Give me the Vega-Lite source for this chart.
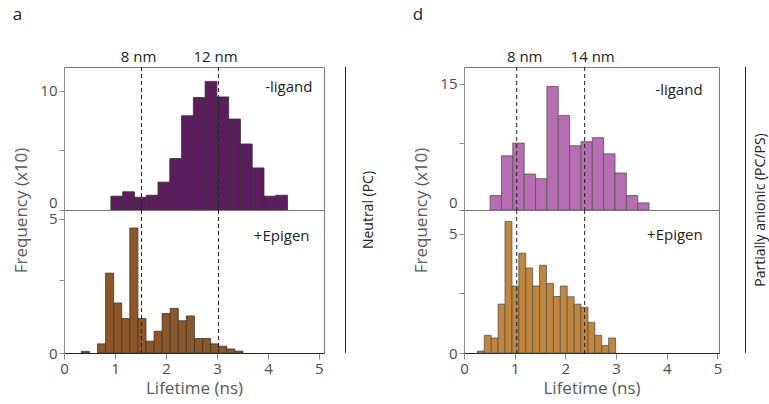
{
  "$schema": "https://vega.github.io/schema/vega-lite/v6.json",
  "background": "white",
  "padding": {"left": 12, "top": 5, "right": 5, "bottom": 5},
  "datasets": {
    "aTop": [
      {"start": 0.92, "end": 1.151, "count": 1.16},
      {"start": 1.151, "end": 1.382, "count": 1.53},
      {"start": 1.382, "end": 1.613, "count": 1.07},
      {"start": 1.613, "end": 1.844, "count": 1.24},
      {"start": 1.844, "end": 2.075, "count": 2.34},
      {"start": 2.075, "end": 2.306, "count": 4.32},
      {"start": 2.306, "end": 2.537, "count": 7.91},
      {"start": 2.537, "end": 2.768, "count": 9.44},
      {"start": 2.768, "end": 2.999, "count": 10.79},
      {"start": 2.999, "end": 3.23, "count": 9.49},
      {"start": 3.23, "end": 3.461, "count": 7.63},
      {"start": 3.461, "end": 3.692, "count": 5.54},
      {"start": 3.692, "end": 3.923, "count": 3.53},
      {"start": 3.923, "end": 4.154, "count": 1.16},
      {"start": 4.154, "end": 4.385, "count": 1.24}
    ],
    "aBot": [
      {"start": 0.34, "end": 0.4985, "count": 0.06},
      {"start": 0.657, "end": 0.8155, "count": 0.34},
      {"start": 0.8155, "end": 0.974, "count": 2.97},
      {"start": 0.974, "end": 1.1325, "count": 1.86},
      {"start": 1.1325, "end": 1.291, "count": 1.28},
      {"start": 1.291, "end": 1.4495, "count": 4.65},
      {"start": 1.4495, "end": 1.608, "count": 1.28},
      {"start": 1.608, "end": 1.7665, "count": 0.44},
      {"start": 1.7665, "end": 1.925, "count": 0.81},
      {"start": 1.925, "end": 2.0835, "count": 1.47},
      {"start": 2.0835, "end": 2.242, "count": 1.66},
      {"start": 2.242, "end": 2.4005, "count": 1.2},
      {"start": 2.4005, "end": 2.559, "count": 1.38},
      {"start": 2.559, "end": 2.7175, "count": 0.54},
      {"start": 2.7175, "end": 2.876, "count": 0.54},
      {"start": 2.876, "end": 3.0345, "count": 0.34},
      {"start": 3.0345, "end": 3.193, "count": 0.25},
      {"start": 3.193, "end": 3.3515, "count": 0.15},
      {"start": 3.3515, "end": 3.51, "count": 0.07}
    ],
    "dTop": [
      {"start": 0.515, "end": 0.739, "count": 1.72},
      {"start": 0.739, "end": 0.963, "count": 6.44},
      {"start": 0.963, "end": 1.187, "count": 7.96},
      {"start": 1.187, "end": 1.411, "count": 4.28},
      {"start": 1.411, "end": 1.635, "count": 3.72},
      {"start": 1.635, "end": 1.859, "count": 14.7},
      {"start": 1.859, "end": 2.083, "count": 11.24},
      {"start": 2.083, "end": 2.307, "count": 7.64},
      {"start": 2.307, "end": 2.531, "count": 8.12},
      {"start": 2.531, "end": 2.755, "count": 8.6},
      {"start": 2.755, "end": 2.979, "count": 6.68},
      {"start": 2.979, "end": 3.203, "count": 4.4},
      {"start": 3.203, "end": 3.427, "count": 1.72},
      {"start": 3.427, "end": 3.651, "count": 0.84}
    ],
    "dBot": [
      {"start": 0.264, "end": 0.4003, "count": 0.08},
      {"start": 0.4003, "end": 0.5366, "count": 0.74},
      {"start": 0.5366, "end": 0.6729, "count": 0.63},
      {"start": 0.6729, "end": 0.8092, "count": 2.05},
      {"start": 0.8092, "end": 0.9455, "count": 5.52},
      {"start": 0.9455, "end": 1.0818, "count": 2.81},
      {"start": 1.0818, "end": 1.2181, "count": 4.19},
      {"start": 1.2181, "end": 1.3544, "count": 3.57},
      {"start": 1.3544, "end": 1.4907, "count": 2.81},
      {"start": 1.4907, "end": 1.627, "count": 3.68},
      {"start": 1.627, "end": 1.7633, "count": 2.92},
      {"start": 1.7633, "end": 1.8996, "count": 2.37},
      {"start": 1.8996, "end": 2.0359, "count": 2.81},
      {"start": 2.0359, "end": 2.1722, "count": 2.36},
      {"start": 2.1722, "end": 2.3085, "count": 2.05},
      {"start": 2.3085, "end": 2.4448, "count": 1.92},
      {"start": 2.4448, "end": 2.5811, "count": 1.29},
      {"start": 2.5811, "end": 2.7174, "count": 0.74},
      {"start": 2.7174, "end": 2.8537, "count": 0.31},
      {"start": 2.8537, "end": 2.99, "count": 0.63}
    ],
    "aLines": [
      {"lifetime": 1.52, "label": "8 nm"},
      {"lifetime": 3.03, "label": "12 nm"}
    ],
    "dLines": [
      {"lifetime": 1.04, "label": "8 nm"},
      {"lifetime": 2.38, "label": "14 nm"}
    ]
  },
  "bounds": "flush",
  "align": "each",
  "columns": 4,
  "spacing": {"row": 0, "column": 10},
  "concat": [
    {
      "width": 260,
      "height": 143,
      "title": {"text": "a", "anchor": "start", "frame": "bounds", "offset": 26, "fontSize": 17, "fontWeight": "normal", "font": "Open Sans", "color": "#222"},
      "layer": [
        {
          "data": {"name": "aTop"},
          "mark": {"type": "bar", "fill": "#5c1d5e", "stroke": "#333333", "strokeWidth": 0.8},
          "encoding": {
            "x": {"field": "start", "type": "quantitative", "scale": {"domain": [0, 5.1], "nice": false}, "axis": null},
            "x2": {"field": "end"},
            "y": {"field": "count", "type": "quantitative", "scale": {"domain": [0, 12], "nice": false},
              "axis": {"values": [0, 5, 10], "labelExpr": "datum.value == 5 ? '' : datum.label", "title": "Frequency (x10)", "titleY": 143, "titlePadding": 9, "labelFlush": true}},
            "y2": {"datum": 0}
          }
        },
        {
          "data": {"name": "aLines"},
          "mark": {"type": "rule", "strokeDash": [4, 3], "color": "#222", "strokeWidth": 1},
          "encoding": {"x": {"field": "lifetime", "type": "quantitative"}}
        },
        {
          "data": {"name": "aLines"},
          "mark": {"type": "text", "baseline": "bottom", "dy": -2, "dx": -3, "fontSize": 15, "font": "Open Sans", "color": "#222"},
          "encoding": {"x": {"field": "lifetime", "type": "quantitative"}, "y": {"datum": 12}, "text": {"field": "label"}}
        },
        {
          "data": {"values": [{"label": "-ligand"}]},
          "mark": {"type": "text", "fontSize": 15, "font": "Open Sans", "color": "#222"},
          "encoding": {"x": {"datum": 4.41}, "y": {"datum": 10.3}, "text": {"field": "label"}}
        }
      ]
    },
    {
      "width": 120,
      "height": 143,
      "view": {"stroke": null},
      "layer": [
        {
          "data": {"values": [{"pos": 11.5}]},
          "mark": {"type": "rule", "color": "#222", "strokeWidth": 1},
          "encoding": {"x": {"field": "pos", "type": "quantitative", "scale": {"domain": [0, 120], "nice": false}, "axis": null}}
        },
        {
          "data": {"values": [{"label": "Neutral (PC)"}]},
          "mark": {"type": "text", "angle": 270, "fontSize": 14, "font": "Open Sans", "color": "#222"},
          "encoding": {"x": {"datum": 34.5}, "y": {"datum": 0, "scale": {"domain": [0, 1]}, "axis": null}, "text": {"field": "label"}}
        }
      ]
    },
    {
      "width": 255,
      "height": 143,
      "title": {"text": "d", "anchor": "start", "frame": "bounds", "offset": 26, "fontSize": 17, "fontWeight": "normal", "font": "Open Sans", "color": "#222"},
      "layer": [
        {
          "data": {"name": "dTop"},
          "mark": {"type": "bar", "fill": "#b66db1", "stroke": "#555555", "strokeWidth": 0.8},
          "encoding": {
            "x": {"field": "start", "type": "quantitative", "scale": {"domain": [0, 5.03], "nice": false}, "axis": null},
            "x2": {"field": "end"},
            "y": {"field": "count", "type": "quantitative", "scale": {"domain": [0, 17], "nice": false},
              "axis": {"values": [0, 8, 15], "labelExpr": "datum.value == 8 ? '' : datum.label", "title": "Frequency (x10)", "titleY": 143, "titlePadding": 9, "labelFlush": true}},
            "y2": {"datum": 0}
          }
        },
        {
          "data": {"name": "dLines"},
          "mark": {"type": "rule", "strokeDash": [4, 3], "color": "#222", "strokeWidth": 1},
          "encoding": {"x": {"field": "lifetime", "type": "quantitative"}}
        },
        {
          "data": {"name": "dLines"},
          "mark": {"type": "text", "baseline": "bottom", "dy": -2, "dx": 8, "fontSize": 15, "font": "Open Sans", "color": "#222"},
          "encoding": {"x": {"field": "lifetime", "type": "quantitative"}, "y": {"datum": 17}, "text": {"field": "label"}}
        },
        {
          "data": {"values": [{"label": "-ligand"}]},
          "mark": {"type": "text", "fontSize": 15, "font": "Open Sans", "color": "#222"},
          "encoding": {"x": {"datum": 4.24}, "y": {"datum": 14.3}, "text": {"field": "label"}}
        }
      ]
    },
    {
      "width": 40,
      "height": 143,
      "view": {"stroke": null},
      "layer": [
        {
          "data": {"values": [{"pos": 16.5}]},
          "mark": {"type": "rule", "color": "#222", "strokeWidth": 1},
          "encoding": {"x": {"field": "pos", "type": "quantitative", "scale": {"domain": [0, 40], "nice": false}, "axis": null}}
        },
        {
          "data": {"values": [{"label": "Partially anionic (PC/PS)"}]},
          "mark": {"type": "text", "angle": 270, "fontSize": 14, "font": "Open Sans", "color": "#222"},
          "encoding": {"x": {"datum": 31.5}, "y": {"datum": 0, "scale": {"domain": [0, 1]}, "axis": null}, "text": {"field": "label"}}
        }
      ]
    },
    {
      "width": 260,
      "height": 143,
      "layer": [
        {
          "data": {"name": "aBot"},
          "mark": {"type": "bar", "fill": "#8c5626", "stroke": "#3a3a3a", "strokeWidth": 0.8},
          "encoding": {
            "x": {"field": "start", "type": "quantitative", "scale": {"domain": [0, 5.1], "nice": false},
              "axis": {"values": [0, 1, 2, 3, 4, 5], "title": "Lifetime (ns)", "domainColor": "#222", "labelFlush": false, "tickSize": 6}},
            "x2": {"field": "end"},
            "y": {"field": "count", "type": "quantitative", "scale": {"domain": [0, 5.32], "nice": false},
              "axis": {"values": [0, 2.7, 5], "labelExpr": "datum.value == 2.7 ? '' : datum.label", "title": null, "labelFlush": false}},
            "y2": {"datum": 0}
          }
        },
        {
          "data": {"name": "aLines"},
          "mark": {"type": "rule", "strokeDash": [4, 3], "color": "#222", "strokeWidth": 1},
          "encoding": {"x": {"field": "lifetime", "type": "quantitative"}}
        },
        {
          "data": {"values": [{"label": "+Epigen"}]},
          "mark": {"type": "text", "fontSize": 15, "font": "Open Sans", "color": "#222"},
          "encoding": {"x": {"datum": 4.27}, "y": {"datum": 4.36}, "text": {"field": "label"}}
        }
      ]
    },
    {
      "width": 120,
      "height": 143,
      "view": {"stroke": null},
      "layer": [
        {
          "data": {"values": [{"pos": 11.5}]},
          "mark": {"type": "rule", "color": "#222", "strokeWidth": 1},
          "encoding": {"x": {"field": "pos", "type": "quantitative", "scale": {"domain": [0, 120], "nice": false}, "axis": null}}
        }
      ]
    },
    {
      "width": 255,
      "height": 143,
      "layer": [
        {
          "data": {"name": "dBot"},
          "mark": {"type": "bar", "fill": "#c1853c", "stroke": "#555555", "strokeWidth": 0.8},
          "encoding": {
            "x": {"field": "start", "type": "quantitative", "scale": {"domain": [0, 5.03], "nice": false},
              "axis": {"values": [0, 1, 2, 3, 4, 5], "title": "Lifetime (ns)", "domainColor": "#222", "labelFlush": false, "tickSize": 6}},
            "x2": {"field": "end"},
            "y": {"field": "count", "type": "quantitative", "scale": {"domain": [0, 6], "nice": false},
              "axis": {"values": [0, 2.5, 5], "labelExpr": "datum.value == 2.5 ? '' : datum.label", "title": null, "labelFlush": false}},
            "y2": {"datum": 0}
          }
        },
        {
          "data": {"name": "dLines"},
          "mark": {"type": "rule", "strokeDash": [4, 3], "color": "#222", "strokeWidth": 1},
          "encoding": {"x": {"field": "lifetime", "type": "quantitative"}}
        },
        {
          "data": {"values": [{"label": "+Epigen"}]},
          "mark": {"type": "text", "fontSize": 15, "font": "Open Sans", "color": "#222"},
          "encoding": {"x": {"datum": 4.16}, "y": {"datum": 4.94}, "text": {"field": "label"}}
        }
      ]
    },
    {
      "width": 40,
      "height": 143,
      "view": {"stroke": null},
      "layer": [
        {
          "data": {"values": [{"pos": 16.5}]},
          "mark": {"type": "rule", "color": "#222", "strokeWidth": 1},
          "encoding": {"x": {"field": "pos", "type": "quantitative", "scale": {"domain": [0, 40], "nice": false}, "axis": null}}
        }
      ]
    }
  ],
  "config": {
    "view": {"stroke": "#7a7a7a"},
    "axis": {
      "grid": false,
      "labelFont": "Open Sans",
      "titleFont": "Open Sans",
      "labelFontSize": 15,
      "titleFontSize": 17,
      "titleFontWeight": "normal",
      "labelColor": "#4d4d4d",
      "titleColor": "#595959",
      "domainColor": "#8c8c8c",
      "tickColor": "#8c8c8c",
      "tickSize": 5
    }
  }
}
